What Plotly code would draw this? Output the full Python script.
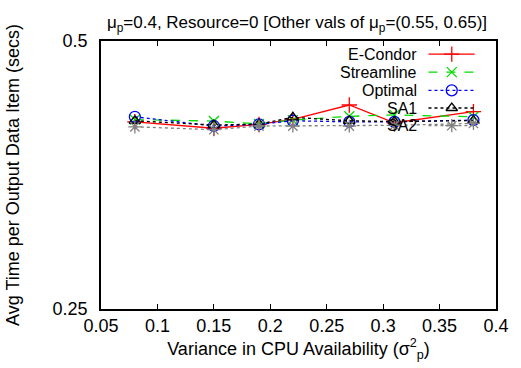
import plotly.graph_objects as go

x_vals = [0.08, 0.15, 0.19, 0.22, 0.27, 0.31, 0.38]
econdor = [0.4057, 0.3990, 0.4030, 0.4082, 0.4237, 0.4047, 0.4165]
streamline = [0.4080, 0.4065, 0.4035, 0.4075, 0.4115, 0.4130, 0.4110]
optimal = [0.4110, 0.4013, 0.4030, 0.4068, 0.4057, 0.4057, 0.4075]
sa1 = [0.4068, 0.4023, 0.4033, 0.4104, 0.4068, 0.4060, 0.4070]
sa2 = [0.4005, 0.3975, 0.4013, 0.4013, 0.4013, 0.4020, 0.4040]

series_names = ["E-Condor", "Streamline", "Optimal", "SA1", "SA2"]
series_vals = [econdor, streamline, optimal, sa1, sa2]

x_ticks = [0.05, 0.1, 0.15, 0.2, 0.25, 0.3, 0.35, 0.4]
x_ticktext = ["0.05", "0.1", "0.15", "0.2", "0.25", "0.3", "0.35", "0.4"]
y_ticks = [0.25, 0.5]
y_ticktext = ["0.25", "0.5"]

styles = [
    dict(color="#ff0000", dash="solid", symbol="cross-thin-open", size=11),
    dict(color="#00dd00", dash="dash", symbol="x-thin-open", size=10),
    dict(color="#0000ff", dash="dot", symbol="circle-open", size=11),
    dict(color="#000000", dash="dot", symbol="triangle-up-open", size=10),
    dict(color="#808080", dash="dot", symbol="asterisk-open", size=11),
]

FONT = "Liberation Sans, Arial, sans-serif"
FS = 18
fig = go.Figure()

for name, vals, st in zip(series_names, series_vals, styles):
    fig.add_trace(go.Scatter(
        x=x_vals, y=vals, mode="lines+markers", name=name, showlegend=False,
        line=dict(color=st["color"], width=1.3, dash=st["dash"]),
        marker=dict(symbol=st["symbol"], size=st["size"], color=st["color"],
                    line=dict(color=st["color"], width=1.3)),
    ))

# custom gnuplot-style legend (text right, sample on the right)
leg_text_x = 0.805
leg_line_x0, leg_line_x1, leg_mark_x = 0.829, 0.946, 0.888
leg_y = [0.951, 0.884, 0.816, 0.750, 0.684]
for name, st, ly in zip(series_names, styles, leg_y):
    fig.add_trace(go.Scatter(
        x=[leg_line_x0, leg_line_x1], y=[ly, ly], mode="lines", showlegend=False,
        xaxis="x2", yaxis="y2", hoverinfo="skip",
        line=dict(color=st["color"], width=1.3, dash=st["dash"]),
    ))
    fig.add_trace(go.Scatter(
        x=[leg_mark_x], y=[ly], mode="markers", showlegend=False,
        xaxis="x2", yaxis="y2", hoverinfo="skip",
        marker=dict(symbol=st["symbol"], size=st["size"], color=st["color"],
                    line=dict(color=st["color"], width=1.3)),
    ))
    fig.add_annotation(x=leg_text_x, y=ly, xref="x2", yref="y2", text=name,
                       showarrow=False, xanchor="right", yanchor="middle",
                       font=dict(size=16, color="black", family=FONT))

fig.update_layout(
    width=521, height=368,
    margin=dict(l=100, r=15, t=41, b=59),
    paper_bgcolor="white", plot_bgcolor="white",
    font=dict(family=FONT, size=FS, color="black"),
    title=dict(text="μ<sub>p</sub>=0.4, Resource=0 [Other vals of μ<sub>p</sub>=(0.55, 0.65)]",
               x=0.57, xanchor="center", y=0.94, yanchor="middle",
               font=dict(size=17, family=FONT)),
    xaxis=dict(range=[0.05, 0.4], tickvals=x_ticks, ticktext=x_ticktext,
               ticks="inside", ticklen=5, tickwidth=1, tickcolor="black",
               showline=True, linecolor="black", linewidth=1.5, mirror="ticks",
               showgrid=False, zeroline=False, tickfont=dict(size=FS),
               title=dict(text="Variance in CPU Availability (σ<sup>2</sup><sub>p</sub>)", standoff=6,
                          font=dict(size=FS))),
    yaxis=dict(type="log", range=[-0.60206, -0.30103], tickvals=y_ticks, ticktext=y_ticktext,
               ticks="inside", ticklen=5, tickwidth=1, tickcolor="black",
               showline=True, linecolor="black", linewidth=1.5, mirror="ticks",
               showgrid=False, zeroline=False, tickfont=dict(size=FS),
               ticklabelstandoff=8,
               title=dict(text="Avg Time per Output Data Item (secs)", standoff=28,
                          font=dict(size=FS))),
    xaxis2=dict(overlaying="x", range=[0, 1], visible=False, fixedrange=True),
    yaxis2=dict(overlaying="y", range=[0, 1], visible=False, fixedrange=True),
)

fig.write_html("out.html")
